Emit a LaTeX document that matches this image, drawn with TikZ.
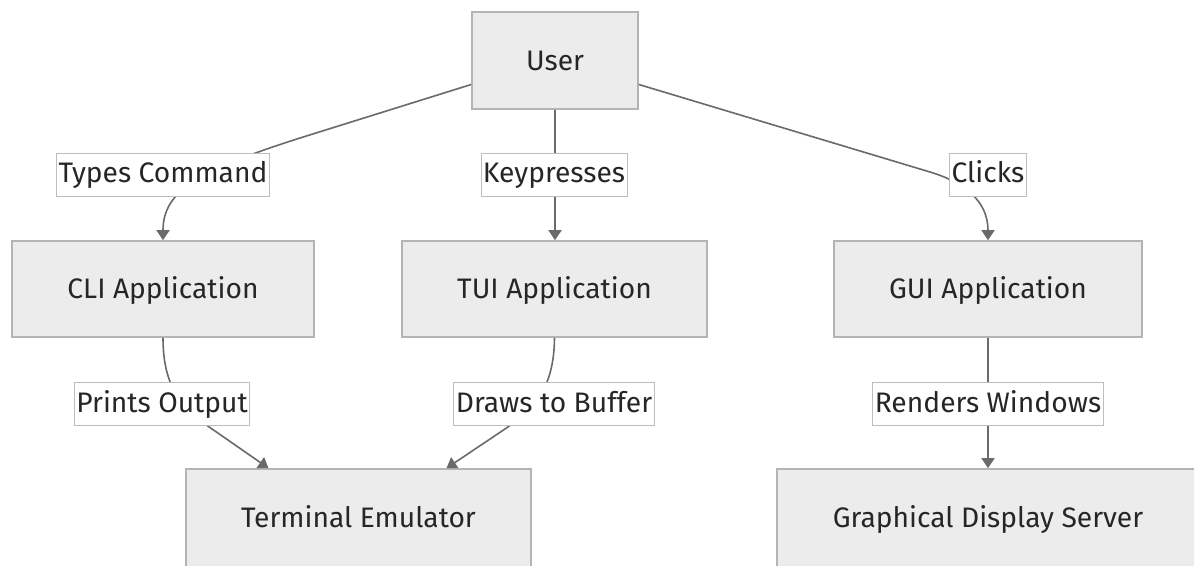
\documentclass[tikz,border=0pt]{standalone}
\usepackage{fontspec}
\setmainfont{Fira Sans}
\usetikzlibrary{arrows.meta}
\definecolor{boxfill}{HTML}{ECECEC}
\definecolor{boxline}{HTML}{B4B4B4}
\definecolor{edgecol}{HTML}{6A6A6A}
\definecolor{labline}{HTML}{BDBDBD}
\definecolor{txt}{HTML}{262626}
\begin{document}
\begin{tikzpicture}[x=1pt,y=-1pt,
  every node/.style={text=txt,font=\fontsize{28.2}{34}\selectfont},
  box/.style={draw=boxline,fill=boxfill,line width=1.6pt,minimum height=96pt,
    inner sep=0pt,text height=22pt,text depth=3pt},
  lab/.style={draw=labline,fill=white,line width=0.8pt,minimum height=43pt,
    inner xsep=2pt,inner ysep=0pt,text height=22pt,text depth=6pt},
  edge/.style={draw=edgecol,line width=1.6pt,-{Triangle[length=10pt,width=13pt]}}]
  \fill[white] (0,0) rectangle (1194,565);
  \useasboundingbox (0,0) rectangle (1194,565);

  % components
  \node[box,minimum width=166pt,minimum height=97pt] (user) at (555,60.5) {User};
  \node[box,minimum width=302pt] (cli)  at (163,289)   {CLI Application};
  \node[box,minimum width=305pt] (tui)  at (554.5,289) {TUI Application};
  \node[box,minimum width=308pt] (gui)  at (988,289)   {GUI Application};
  \node[box,minimum width=345pt,minimum height=100pt,text depth=6pt]
    (term) at (358.5,519) {Terminal Emulator};
  \node[box,minimum width=422pt,minimum height=100pt,text depth=6pt]
    (gds)  at (988,519)   {Graphical Display Server};

  % interactions
  \draw[edge] ([yshift=-24pt]user.west) -- (300,138)
    .. controls (200,170) and (163,190) .. (cli.north);
  \draw[edge] (user.south) -- (user.south |- tui.north);
  \draw[edge] ([yshift=-24pt]user.east) -- (930,172)
    .. controls (963,182) and (988,200) .. (gui.north);
  \draw[edge] (cli.south) .. controls (163,390) and (184,410) .. (215,431)
    -- ([xshift=-90pt]term.north);
  \draw[edge] (tui.south) .. controls (554,390) and (533,410) .. (502,431)
    -- ([xshift=88pt]term.north);
  \draw[edge] (gui.south) -- (gds.north);

  % edge labels
  \node[lab] (l1) at (163,174.5) {Types Command};
  \node[lab] (l2) at (554,174.5) {Keypresses};
  \node[lab] (l3) at (988,174.5) {Clicks};
  \node[lab] (l4) at (162,404)   {Prints Output};
  \node[lab] (l5) at (554,404)   {Draws to Buffer};
  \node[lab] (l6) at (988,404)   {Renders Windows};
\end{tikzpicture}
\end{document}
